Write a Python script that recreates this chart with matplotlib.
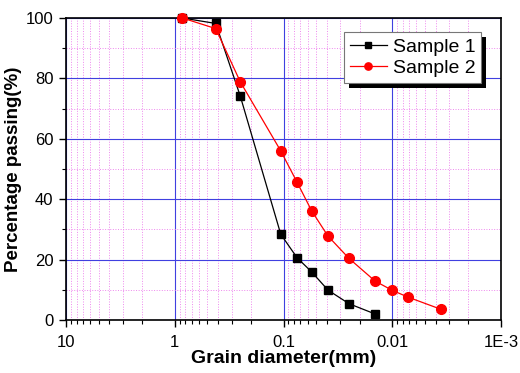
import matplotlib
matplotlib.use("Agg")
import matplotlib.pyplot as plt
from matplotlib.patches import Rectangle
from matplotlib.transforms import IdentityTransform
from matplotlib.ticker import LogLocator, FixedLocator, FixedFormatter, MultipleLocator, NullFormatter

plt.rcParams['font.family'] = ['Liberation Sans', 'DejaVu Sans']

# Data
s1_d = [0.85, 0.42, 0.25, 0.106, 0.075, 0.055, 0.039, 0.025, 0.0144]
s1_p = [100.0, 98.2, 74.2, 28.4, 20.6, 15.9, 9.9, 5.4, 2.0]
s2_d = [0.85, 0.42, 0.25, 0.106, 0.075, 0.055, 0.039, 0.025, 0.0144, 0.0101, 0.0072, 0.0036]
s2_p = [100.0, 96.5, 78.9, 56.0, 45.6, 36.1, 27.8, 20.4, 12.9, 9.9, 7.6, 3.6]
x_ticks = [10, 1, 0.1, 0.01, 0.001]
x_tick_labels = ["10", "1", "0.1", "0.01", "1E-3"]
y_ticks = [0, 20, 40, 60, 80, 100]

fig = plt.figure(figsize=(5.2, 3.73), dpi=100)
ax = fig.add_axes([0.1269, 0.1421, 0.9635 - 0.1269, 0.9517 - 0.1421])

ax.set_xscale('log')
ax.set_xlim(10, 0.001)
ax.set_ylim(0, 100)

ax.plot(s1_d, s1_p, color='black', lw=0.9, marker='s', ms=6, label='Sample 1', zorder=3, clip_on=False)
ax.plot(s2_d, s2_p, color='red', lw=0.9, marker='o', ms=7, label='Sample 2', zorder=3, clip_on=False)

ax.xaxis.set_major_locator(FixedLocator(x_ticks))
ax.xaxis.set_major_formatter(FixedFormatter(x_tick_labels))
ax.xaxis.set_minor_locator(LogLocator(base=10, subs=range(2, 10), numticks=20))
ax.xaxis.set_minor_formatter(NullFormatter())
ax.yaxis.set_major_locator(FixedLocator(y_ticks))
ax.yaxis.set_minor_locator(MultipleLocator(10))

ax.grid(which='major', color='#4040e0', lw=0.8, ls='-', zorder=1)
ax.grid(which='minor', color='#ee88ee', lw=0.7, ls=':', zorder=1)
ax.set_axisbelow(True)

ax.tick_params(which='major', direction='out', length=5, width=1.0, labelsize=12, pad=4,
               top=False, right=False)
ax.tick_params(which='minor', direction='out', length=3, width=0.8, top=False, right=False)
ax.tick_params(axis='x', which='major', pad=6)
for sp in ax.spines.values():
    sp.set_linewidth(1.2)

ax.set_xlabel('Grain diameter(mm)', fontsize=14, fontweight='bold', labelpad=0)
ax.set_ylabel('Percentage passing(%)', fontsize=13.5, fontweight='bold', labelpad=3)

leg = ax.legend(loc='upper right', bbox_to_anchor=(0.954, 0.953), fontsize=14, frameon=True,
                fancybox=False, edgecolor='#777777', framealpha=1, borderpad=0.3,
                handlelength=1.9, handletextpad=0.3, labelspacing=0.2, borderaxespad=0,
                markerscale=0.75)
leg.get_frame().set_linewidth(0.8)
leg.set_zorder(6)

fig.canvas.draw()
bb = leg.get_window_extent()
shadow = Rectangle((bb.x0 + 5, bb.y0 - 5), bb.width, bb.height, transform=IdentityTransform(),
                   facecolor='black', edgecolor='none', zorder=5.5)
ax.add_artist(shadow)

fig.savefig('out.png', dpi=100)
